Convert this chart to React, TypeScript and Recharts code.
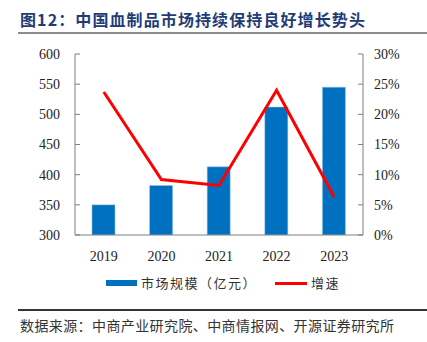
import React from "react";
import { Bar, ComposedChart, Line, XAxis, YAxis } from "recharts";

const years = ["2019", "2020", "2021", "2022", "2023"];
const marketSize = [350, 382, 413, 512, 545];
const growth = [23.7, 9.2, 8.2, 24.0, 6.3];
const leftTicks = [300, 350, 400, 450, 500, 550, 600];
const rightTicks = [0, 5, 10, 15, 20, 25, 30];
const boundaryTicks = [0, 1, 2, 3, 4, 5];

const data = years.map((year, i) => ({
  year,
  idx: i + 0.5,
  size: marketSize[i],
  growth: growth[i],
}));

const serif = "'Liberation Serif', 'Times New Roman', serif";
const cjk = "'Noto Sans CJK SC', sans-serif";
const axisColor = "#7f7f7f";
const tickFont = { fontFamily: serif, fontSize: 14, fill: "#222" };

export default function App() {
  return (
    <div style={{ position: "fixed", left: 0, top: 0, width: 427, height: 342, background: "#fff" }}>
      <div
        style={{
          position: "absolute",
          left: 20,
          top: 9,
          fontFamily: cjk,
          fontWeight: 700,
          fontSize: 16,
          letterSpacing: 1.1,
          color: "#1f3c78",
          whiteSpace: "nowrap",
          lineHeight: "20px",
        }}
      >
        图12：中国血制品市场持续保持良好增长势头
      </div>
      <div style={{ position: "absolute", left: 18, top: 32, width: 409, height: 2, background: "#8c8c8c" }} />

      <div style={{ position: "absolute", left: 0, top: 0 }}>
        <ComposedChart width={427} height={342} data={data} margin={{ top: 54, right: 14, bottom: 82, left: 35 }}>
          <XAxis
            xAxisId="grid"
            type="number"
            dataKey="idx"
            domain={[0, 5]}
            ticks={boundaryTicks}
            height={0}
            axisLine={false}
            tickLine={{ stroke: axisColor }}
            tickSize={-5}
            tick={() => <g />}
          />
          <XAxis
            xAxisId="cat"
            dataKey="year"
            height={25}
            axisLine={{ stroke: axisColor }}
            tickLine={false}
            tickMargin={10}
            tick={tickFont}
          />
          <YAxis
            yAxisId="left"
            width={40}
            domain={[300, 600]}
            ticks={leftTicks}
            allowDataOverflow
            axisLine={{ stroke: axisColor }}
            tickLine={{ stroke: axisColor }}
            tickSize={-5}
            tickMargin={20}
            tick={tickFont}
          />
          <YAxis
            yAxisId="right"
            orientation="right"
            width={50}
            domain={[0, 30]}
            ticks={rightTicks}
            tickFormatter={(v: number) => `${v}%`}
            axisLine={{ stroke: axisColor }}
            tickLine={{ stroke: axisColor }}
            tickSize={-5}
            tickMargin={16}
            tick={tickFont}
          />
          <Bar
            xAxisId="cat"
            yAxisId="left"
            dataKey="size"
            fill="#0070c0"
            stroke="#9dc3e6"
            strokeWidth={0.5}
            barSize={23}
            isAnimationActive={false}
          />
          <Line
            xAxisId="cat"
            yAxisId="right"
            dataKey="growth"
            stroke="#ff0000"
            strokeWidth={3}
            dot={false}
            activeDot={false}
            isAnimationActive={false}
          />
        </ComposedChart>
      </div>

      <div style={{ position: "absolute", left: 106, top: 280, width: 31, height: 6, background: "#0070c0" }} />
      <div
        style={{
          position: "absolute",
          left: 141,
          top: 274,
          fontFamily: cjk,
          fontSize: 13,
          letterSpacing: 1.5,
          color: "#333",
          whiteSpace: "nowrap",
          lineHeight: "18px",
        }}
      >
        市场规模（亿元）
      </div>
      <div style={{ position: "absolute", left: 275, top: 282, width: 32, height: 3, background: "#ff0000" }} />
      <div
        style={{
          position: "absolute",
          left: 311,
          top: 274,
          fontFamily: cjk,
          fontSize: 13,
          letterSpacing: 1.5,
          color: "#333",
          whiteSpace: "nowrap",
          lineHeight: "18px",
        }}
      >
        增速
      </div>

      <div style={{ position: "absolute", left: 18, top: 309, width: 409, height: 1.5, background: "#333" }} />
      <div
        style={{
          position: "absolute",
          left: 20,
          top: 316,
          fontFamily: cjk,
          fontSize: 14,
          letterSpacing: 0.4,
          color: "#333",
          whiteSpace: "nowrap",
          lineHeight: "18px",
        }}
      >
        数据来源：中商产业研究院、中商情报网、开源证券研究所
      </div>
    </div>
  );
}
